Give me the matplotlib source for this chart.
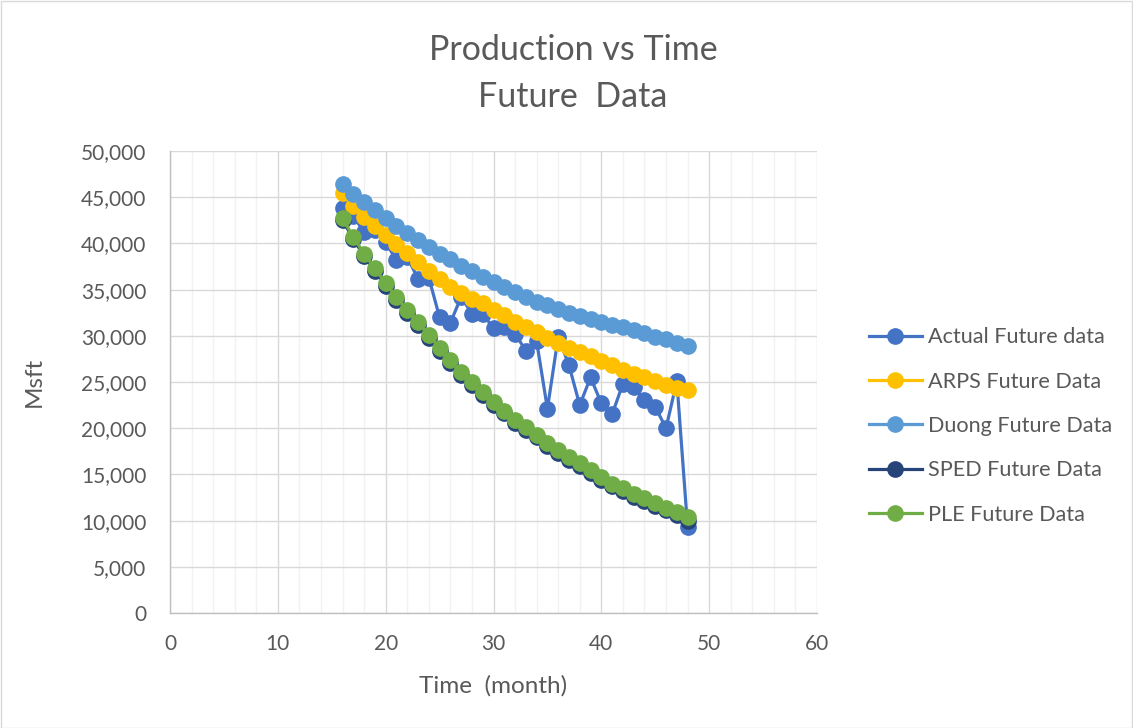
import matplotlib.pyplot as plt
from matplotlib.ticker import MultipleLocator, FuncFormatter
from matplotlib.patches import Rectangle

plt.rcParams['font.family'] = ['Lato', 'DejaVu Sans']

# Monthly production forecasts (Msft), months 16-48
months = list(range(16, 49))
actual = [43800, 43000, 41200, 41400, 40100, 38200, 38500, 36200, 36300, 32000,
          31400, 34200, 32400, 32400, 30800, 31000, 30200, 28400, 29400, 22100,
          29900, 26800, 22500, 25500, 22700, 21500, 24800, 24500, 23000, 22300,
          20000, 25100, 9300]
arps = [45500, 44000, 42900, 41900, 40900, 39900, 39000, 38000, 37000, 36100,
        35300, 34600, 34000, 33500, 32800, 32200, 31500, 30900, 30400, 29800,
        29200, 28700, 28200, 27800, 27300, 26800, 26300, 25900, 25500, 25100,
        24700, 24400, 24100]
duong = [46400, 45400, 44500, 43600, 42700, 41900, 41100, 40400, 39600, 38900,
         38300, 37600, 37000, 36400, 35800, 35300, 34700, 34200, 33700, 33300,
         32900, 32500, 32100, 31800, 31500, 31200, 30900, 30600, 30300, 29900,
         29600, 29200, 28900]
sped = [42500, 40500, 38650, 37000, 35400, 33900, 32500, 31200, 29800, 28400,
        27100, 25800, 24700, 23600, 22500, 21600, 20600, 19800, 19000, 18100,
        17300, 16600, 15900, 15200, 14400, 13700, 13200, 12600, 12100, 11600,
        11100, 10600, 10000]
ple = [42700, 40700, 38900, 37300, 35700, 34200, 32800, 31500, 30100, 28700,
       27400, 26100, 25000, 23900, 22800, 21900, 20900, 20100, 19300, 18400,
       17600, 16900, 16200, 15500, 14700, 14000, 13500, 12900, 12400, 11900,
       11400, 10900, 10400]

series = [
    ('Actual Future data', actual, '#4472C4'),
    ('ARPS Future Data', arps, '#FFC000'),
    ('Duong Future Data', duong, '#5B9BD5'),
    ('SPED Future Data', sped, '#264478'),
    ('PLE Future Data', ple, '#70AD47'),
]

W, H = 1133, 728
fig = plt.figure(figsize=(W / 100, H / 100), dpi=100)
fig.patches.append(Rectangle((0.5 / W, 0.5 / H), 1 - 1.5 / W, 1 - 1.5 / H,
                             transform=fig.transFigure, fill=False,
                             edgecolor='#D9D9D9', linewidth=1))

ax = fig.add_axes([170 / W, (H - 613) / H, 647 / W, 462 / H])

for name, vals, color in series:
    ax.plot(months, vals, color=color, linewidth=2.3, marker='o',
            markersize=11, markeredgecolor=color, label=name, zorder=3)

ax.set_xlim(0, 60)
ax.set_ylim(0, 50000)
ax.xaxis.set_major_locator(MultipleLocator(10))
ax.xaxis.set_minor_locator(MultipleLocator(2))
ax.yaxis.set_major_locator(MultipleLocator(5000))
ax.yaxis.set_major_formatter(FuncFormatter(lambda v, p: f'{int(v):,}'))

ax.grid(which='major', color='#D9D9D9', linewidth=1)
ax.grid(which='minor', axis='x', color='#F2F2F2', linewidth=1)
ax.set_axisbelow(True)

for side in ['top', 'right']:
    ax.spines[side].set_visible(False)
for side in ['left', 'bottom']:
    ax.spines[side].set_color('#BFBFBF')
    ax.spines[side].set_linewidth(1)

ax.tick_params(which='both', length=0, labelsize=15, labelcolor='#595959')
ax.tick_params(axis='x', pad=15)
ax.tick_params(axis='y', pad=17)

ax.set_xlabel('Time  (month)', fontsize=17.5, color='#595959', labelpad=15)
ax.set_ylabel('Msft', fontsize=17.5, color='#595959', labelpad=26)

fig.text(573 / W, 1 - 50 / H, 'Production vs Time', ha='center', va='center',
         fontsize=24.5, color='#595959')
fig.text(573 / W, 1 - 97 / H, 'Future  Data', ha='center', va='center',
         fontsize=24.5, color='#595959')

ax.legend(loc='center left', bbox_to_anchor=(860 / W, (H - 426) / H),
          bbox_transform=fig.transFigure, frameon=False, fontsize=15.6,
          labelcolor='#595959', handlelength=2.45, handletextpad=0.3,
          labelspacing=1.12, borderaxespad=0)

fig.savefig('out.png', dpi=100)
